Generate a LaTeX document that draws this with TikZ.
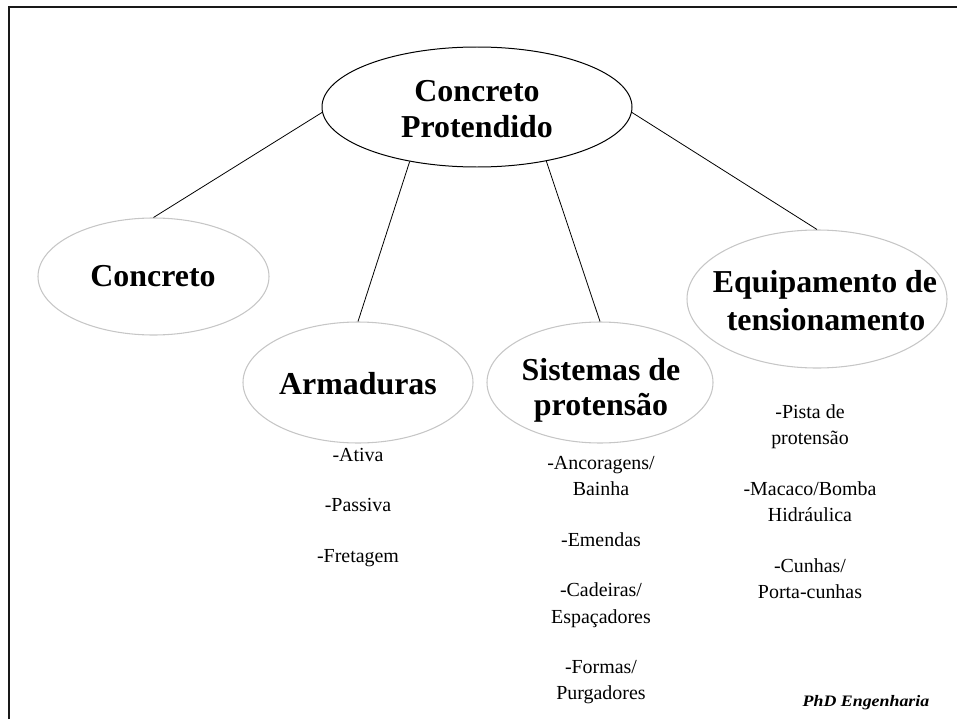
\documentclass[tikz,border=0pt]{standalone}
\usepackage{fontspec}
\setmainfont{Liberation Serif}
\usetikzlibrary{shapes.geometric}
\begin{document}
\begin{tikzpicture}[x=0.7524pt,y=-0.7524pt,
  bubble/.style={ellipse,draw=gray!45,line width=0.8pt,inner sep=0pt},
  hub/.style={ellipse,draw=black,line width=0.75pt,inner sep=0pt},
  title/.style={font=\fontsize{24}{27}\selectfont\bfseries,anchor=base,inner sep=0pt},
  item/.style={font=\fontsize{15}{17}\selectfont,anchor=base,inner sep=0pt},
  link/.style={draw=black,line width=0.6pt}]
\useasboundingbox (0,0) rectangle (957,719);
\draw[line width=1.6pt,black!90] (9,719) -- (9,7) -- (957,7);
% ellipses
\node[hub, minimum width=310*0.7524pt, minimum height=120*0.7524pt] (main) at (477,107) {};
\node[bubble, minimum width=231*0.7524pt, minimum height=117*0.7524pt] (conc) at (153.5,276.5) {};
\node[bubble, minimum width=230*0.7524pt, minimum height=121*0.7524pt] (arm) at (358,382.5) {};
\node[bubble, minimum width=226*0.7524pt, minimum height=121*0.7524pt] (sis) at (600,382.5) {};
\node[bubble, minimum width=260*0.7524pt, minimum height=138*0.7524pt] (equ) at (817,299) {};
% connectors
\draw[link] (main.182) -- (conc.north);
\draw[link] (main.219) -- (arm.north);
\draw[link] (main.322) -- (sis.north);
\draw[link] (main.358) -- (equ.north);
% titles
\node[title] (mainA) at (477,101.7) {Concreto};
\node[title] (mainB) at (477,137) {Protendido};
\node[title] (concT) at (153,286.7) {Concreto};
\node[title] (armT) at (358,394) {Armaduras};
\node[title] (sisA) at (601,380) {Sistemas de};
\node[title] (sisB) at (601,415) {protensão};
\node[title] (equA) at (825,292.7) {Equipamento de};
\node[title] (equB) at (826,330) {tensionamento};
% Armaduras list
\node[item] (a1) at (358,461) {-Ativa};
\node[item] (a2) at (358,511.7) {-Passiva};
\node[item] (a3) at (358,562) {-Fretagem};
% Sistemas list
\node[item] (s1) at (601,469.3) {-Ancoragens/};
\node[item] (s2) at (601,495) {Bainha};
\node[item] (s3) at (601,546) {-Emendas};
\node[item] (s4) at (601,596.7) {-Cadeiras/};
\node[item] (s5) at (601,623.3) {Espaçadores};
\node[item] (s6) at (601,673.3) {-Formas/};
\node[item] (s7) at (601,699.3) {Purgadores};
% Equipamento list
\node[item] (e1) at (810,418) {-Pista de};
\node[item] (e2) at (810,444) {protensão};
\node[item] (e3) at (810,495) {-Macaco/Bomba};
\node[item] (e4) at (810,521) {Hidráulica};
\node[item] (e5) at (810,572) {-Cunhas/};
\node[item] (e6) at (810,598) {Porta-cunhas};
% logo
\node[font=\fontsize{12}{14}\selectfont\bfseries\itshape, anchor=base, inner sep=0pt, xscale=1.12] (logo) at (866,706.7) {PhD Engenharia};
\end{tikzpicture}
\end{document}
